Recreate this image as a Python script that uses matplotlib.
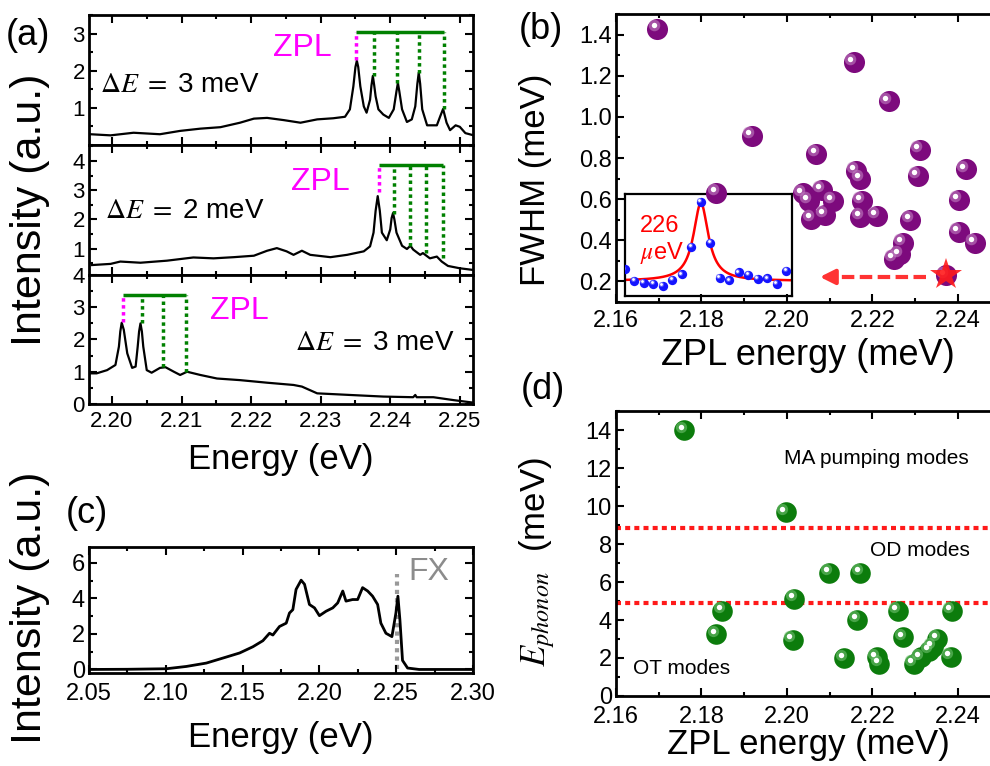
import matplotlib
matplotlib.use('Agg')
import matplotlib.pyplot as plt
from matplotlib.ticker import MultipleLocator, FormatStrFormatter
from matplotlib.transforms import offset_copy
import numpy as np

plt.rcParams['font.family'] = ['Liberation Sans', 'DejaVu Sans']
plt.rcParams['mathtext.fontset'] = 'stix'

# ---- (a) three PL spectra ----
top_e = [2.1969, 2.1998, 2.2031, 2.2069, 2.2098, 2.2127, 2.2156, 2.2184, 2.2204, 2.2223,
         2.2247, 2.2271, 2.2295, 2.2318, 2.2335, 2.2342, 2.2347, 2.2350, 2.2352, 2.2354,
         2.2357, 2.2362, 2.2366, 2.2371, 2.2373, 2.2375, 2.2377, 2.2379, 2.2383, 2.2390,
         2.2398, 2.2405, 2.2409, 2.2411, 2.2413, 2.2417, 2.2424, 2.2431, 2.2436, 2.2439,
         2.2441, 2.2443, 2.2446, 2.2453, 2.2467, 2.2472, 2.2476, 2.2481, 2.2486, 2.2494,
         2.2500, 2.2508, 2.2520]
top_i = [0.29, 0.26, 0.33, 0.29, 0.38, 0.44, 0.48, 0.60, 0.71, 0.73,
         0.67, 0.60, 0.69, 0.72, 0.76, 0.96, 1.58, 2.10, 2.27, 2.10,
         1.58, 1.04, 0.87, 1.22, 1.60, 1.86, 1.60, 1.31, 0.96, 0.82,
         0.73, 0.96, 1.45, 1.67, 1.45, 0.96, 0.62, 0.69, 1.04, 1.65,
         1.95, 1.65, 0.96, 0.53, 0.53, 0.78, 0.97, 0.60, 0.40, 0.53,
         0.49, 0.32, 0.26]
mid_e = [2.1971, 2.1998, 2.2012, 2.2041, 2.2079, 2.2117, 2.2146, 2.2175, 2.2204, 2.2223,
         2.2237, 2.2251, 2.2261, 2.2273, 2.2285, 2.2314, 2.2338, 2.2362, 2.2371, 2.2376,
         2.2379, 2.2382, 2.2385, 2.2388, 2.2395, 2.2400, 2.2402, 2.2404, 2.2406, 2.2409,
         2.2417, 2.2424, 2.2429, 2.2433, 2.2443, 2.2447, 2.2457, 2.2467, 2.2474, 2.2483,
         2.2500, 2.2520]
mid_i = [0.44, 0.48, 0.56, 0.52, 0.59, 0.70, 0.67, 0.71, 0.76, 0.93,
         1.02, 0.91, 0.79, 0.93, 0.79, 0.71, 0.79, 0.91, 1.08, 1.55,
         2.30, 2.80, 2.30, 1.55, 1.29, 1.66, 2.05, 2.22, 2.00, 1.55,
         1.10, 0.99, 1.10, 0.97, 0.79, 0.85, 0.67, 0.73, 0.56, 0.41,
         0.33, 0.27]
bot_e = [2.1969, 2.1978, 2.1993, 2.2005, 2.2010, 2.2012, 2.2014, 2.2017, 2.2022, 2.2029,
         2.2034, 2.2037, 2.2039, 2.2041, 2.2043, 2.2045, 2.2050, 2.2057, 2.2069, 2.2077,
         2.2089, 2.2098, 2.2108, 2.2127, 2.2151, 2.2184, 2.2223, 2.2261, 2.2273, 2.2295,
         2.2342, 2.2390, 2.2433, 2.2436, 2.2438, 2.2462, 2.2491, 2.2520]
bot_i = [0.95, 0.95, 1.05, 1.21, 1.78, 2.25, 2.52, 2.30, 1.57, 1.12,
         1.16, 1.78, 2.25, 2.50, 2.25, 1.78, 1.05, 0.97, 1.12, 1.14,
         1.00, 0.90, 1.00, 0.90, 0.79, 0.74, 0.66, 0.59, 0.54, 0.33,
         0.28, 0.23, 0.21, 0.28, 0.21, 0.21, 0.12, 0.04]

# ZPL / replica guide lines: (zpl energy, zpl top, replica energies, replica tops, bar height)
top_zpl = (2.2351, 2.29, [2.2377, 2.2410, 2.2442, 2.2477], [1.86, 1.68, 1.95, 0.97], 3.04)
mid_zpl = (2.2384, 2.94, [2.2406, 2.2429, 2.2452, 2.2476], [2.18, 1.08, 0.85, 0.67], 3.85)
bot_zpl = (2.2016, 2.55, [2.2043, 2.2073, 2.2107], [2.50, 1.16, 1.00], 3.37)

# ---- (b) FWHM vs ZPL energy ----
fw_e = [2.1697, 2.2157, 2.2239, 2.1918, 2.2069, 2.2311, 2.2419, 2.2161, 2.2172, 2.2307,
        2.1835, 2.2038, 2.2052, 2.2081, 2.2107, 2.2175, 2.2403, 2.2057, 2.2088, 2.2172,
        2.2210, 2.2289, 2.2403, 2.2440, 2.2272, 2.2264, 2.2250, 2.2372]
fw_w = [1.428, 1.265, 1.075, 0.909, 0.820, 0.839, 0.745, 0.738, 0.698, 0.712,
        0.631, 0.628, 0.592, 0.644, 0.592, 0.592, 0.595, 0.506, 0.522, 0.514,
        0.517, 0.498, 0.441, 0.387, 0.387, 0.332, 0.311, 0.229]
star_e, star_w = 2.2372, 0.229
arrow_tip = 2.2077

# inset spectrum (channel offset from peak, intensity) and Lorentzian fit
ins_x = list(range(-8, 10))
ins_y = [0.257, 0.200, 0.192, 0.185, 0.177, 0.205, 0.233, 0.367, 0.584,
         0.387, 0.216, 0.203, 0.242, 0.229, 0.210, 0.213, 0.185, 0.249]
fit_base, fit_amp, fit_x0, fit_g = 0.20, 0.38, 0.0, 1.9

# ---- (c) ensemble spectrum ----
c_e = [2.0501, 2.0750, 2.1004, 2.1134, 2.1264, 2.1394, 2.1481, 2.1567, 2.1632, 2.1675,
       2.1697, 2.1740, 2.1784, 2.1805, 2.1827, 2.1848, 2.1881, 2.1903, 2.1935, 2.1968,
       2.2000, 2.2043, 2.2087, 2.2119, 2.2152, 2.2173, 2.2216, 2.2249, 2.2281, 2.2314,
       2.2346, 2.2379, 2.2400, 2.2433, 2.2472, 2.2498, 2.2511, 2.2524, 2.2541, 2.2574,
       2.2649, 2.2996]
c_i = [0.00, 0.01, 0.04, 0.17, 0.36, 0.70, 0.93, 1.28, 1.62, 2.04,
       1.94, 2.42, 2.61, 3.18, 3.37, 4.51, 5.03, 4.80, 3.66, 3.47,
       3.03, 3.28, 3.47, 3.75, 4.42, 3.85, 3.94, 3.94, 4.61, 4.42,
       4.13, 3.66, 2.61, 2.04, 1.85, 3.18, 4.13, 2.80, 0.51, 0.08,
       0.00, 0.00]
fx_e, fx_top = 2.2502, 5.37

# ---- (d) phonon energy vs ZPL energy ----
ph_e = [2.1760, 2.1997, 2.1849, 2.1835, 2.2017, 2.2013, 2.2099, 2.2172, 2.2165, 2.2134,
        2.2210, 2.2216, 2.2259, 2.2272, 2.2297, 2.2313, 2.2333, 2.2342, 2.2352, 2.2384,
        2.2385]
ph_E = [13.99, 9.67, 4.48, 3.25, 5.12, 2.97, 6.47, 6.47, 3.99, 1.98,
        2.03, 1.68, 4.48, 3.08, 1.68, 2.03, 2.38, 2.59, 3.01, 2.06,
        4.48]
mode_lines = [8.83, 4.91]

fig = plt.figure(figsize=(9.9, 7.66), dpi=100)


def style(ax, xmaj, ymaj, size=15, xfmt='%.2f', yfmt=None, xpad=3):
    ax.xaxis.set_major_locator(MultipleLocator(xmaj))
    ax.xaxis.set_minor_locator(MultipleLocator(xmaj / 2))
    ax.yaxis.set_major_locator(MultipleLocator(ymaj))
    ax.yaxis.set_minor_locator(MultipleLocator(ymaj / 2))
    ax.xaxis.set_major_formatter(FormatStrFormatter(xfmt))
    if yfmt:
        ax.yaxis.set_major_formatter(FormatStrFormatter(yfmt))
    ax.tick_params(which='both', direction='in', top=True, right=True, width=1.5,
                   labelsize=size, pad=3)
    ax.tick_params(axis='x', which='both', pad=xpad)
    ax.tick_params(which='major', length=6)
    ax.tick_params(which='minor', length=3)
    for sp in ax.spines.values():
        sp.set_linewidth(2)


def balls(ax, x, y, color, light, s, spot):
    ax.scatter(x, y, s=s, color=color, lw=0, zorder=3)
    tr = offset_copy(ax.transData, fig=fig, x=-np.sqrt(s) * 0.18, y=np.sqrt(s) * 0.18, units='points')
    ax.scatter(x, y, s=s * 0.3, color=light, alpha=0.6, lw=0, zorder=4, transform=tr)
    ax.scatter(x, y, s=spot, color='white', lw=0, zorder=5, transform=tr)


def guides(ax, g):
    ze, ztop, re, rtop, bar = g
    ax.plot([ze, ze], [ztop, bar], color='#ff00ff', ls=(0, (1, 1)), lw=2.5)
    ax.plot([ze, re[-1]], [bar, bar], color='#008000', lw=2.5, solid_capstyle='butt')
    for e, t in zip(re, rtop):
        ax.plot([e, e], [t, bar], color='#008000', ls=(0, (1, 1)), lw=2.5)


# panel (a)
xl_a = (2.1967, 2.2519)
ax1 = fig.add_axes([0.0899, 0.8107, 0.3879, 0.1697])
ax2 = fig.add_axes([0.0899, 0.6410, 0.3879, 0.1697])
ax3 = fig.add_axes([0.0899, 0.4726, 0.3879, 0.1684])
for ax, e, i, g, yl in [(ax1, top_e, top_i, top_zpl, (0, 3.5)),
                        (ax2, mid_e, mid_i, mid_zpl, (0.1, 4.55)),
                        (ax3, bot_e, bot_i, bot_zpl, (0, 4))]:
    ax.plot(e, i, color='black', lw=1.6)
    guides(ax, g)
    ax.set_xlim(*xl_a)
    ax.set_ylim(*yl)
    style(ax, 0.01, 1, size=16, xpad=5)
ax1.set_yticks([1, 2, 3])
ax2.set_yticks([1, 2, 3, 4])
ax1.tick_params(labelbottom=False)
ax2.tick_params(labelbottom=False)
ax3.set_xlabel('Energy (eV)', fontsize=25, labelpad=8)

ax1.text(2.2273, 2.6, 'ZPL', color='#ff00ff', fontsize=23, ha='center', va='center')
ax1.text(2.1983, 1.62, r'$\Delta E\ =\ $3 meV', fontsize=20, ha='left', va='center')
ax2.text(2.2299, 3.29, 'ZPL', color='#ff00ff', fontsize=23, ha='center', va='center')
ax2.text(2.1990, 2.30, r'$\Delta E\ =\ $2 meV', fontsize=20, ha='left', va='center')
ax3.text(2.2183, 2.89, 'ZPL', color='#ff00ff', fontsize=23, ha='center', va='center')
ax3.text(2.2493, 1.88, r'$\Delta E\ =\ $3 meV', fontsize=20, ha='right', va='center')

fig.text(0.030, 0.7265, 'Intensity (a.u.)', fontsize=31, rotation=90, ha='center', va='center')

# panel (c)
axc = fig.add_axes([0.0899, 0.1214, 0.3879, 0.1645])
axc.plot(c_e, c_i, color='black', lw=2)
axc.plot([fx_e, fx_e], [0, fx_top], color='#999999', ls=(0, (1, 1)), lw=3, zorder=1)
axc.text(2.258, 5.47, 'FX', color='#8c8c8c', fontsize=23, ha='left', va='center')
axc.set_xlim(2.05, 2.30)
axc.set_ylim(-0.2, 6.9)
style(axc, 0.05, 2, size=17, xpad=7)
axc.set_yticks([0, 2, 4, 6])
axc.set_xlabel('Energy (eV)', fontsize=25, labelpad=12)
fig.text(0.030, 0.206, 'Intensity (a.u.)', fontsize=31, rotation=90, ha='center', va='center')

# panel (b)
axb = fig.add_axes([0.6222, 0.6057, 0.3886, 0.3760])
axb.set_zorder(2)
axb.patch.set_facecolor('none')
balls(axb, fw_e, fw_w, '#7d0a7d', '#c080c0', 230, 15)
axb.plot(star_e, star_w, marker='*', ms=24, color='#ff1a1a', alpha=0.9, mew=0, zorder=6)
axb.plot([star_e - 0.0046, arrow_tip + 0.0030], [0.222, 0.222], color='#ff3333',
         ls=(0, (3, 1.3)), lw=3, zorder=6)
axb.annotate('', xy=(arrow_tip, 0.222), xytext=(arrow_tip + 0.0034, 0.222),
             arrowprops=dict(arrowstyle='-|>', color='#ff3333', lw=3, mutation_scale=22,
                             shrinkA=0, shrinkB=0), zorder=6)
axb.set_xlim(2.16, 2.25)
axb.set_ylim(0.1, 1.5)
style(axb, 0.02, 0.2, size=17, yfmt='%.1f', xpad=6)
axb.set_xticks([2.16, 2.18, 2.20, 2.22, 2.24])
axb.set_xlabel('ZPL energy (meV)', fontsize=26, labelpad=4)
axb.set_ylabel('FWHM (meV)', fontsize=25)
axb.yaxis.set_label_coords(-0.166, 0.424)

axi = fig.add_axes([0.6313, 0.6136, 0.1687, 0.1332])
axi.set_zorder(1)
xf = np.linspace(-8, 9.6, 400)
axi.plot(xf, fit_base + fit_amp * (fit_g / 2) ** 2 / ((xf - fit_x0) ** 2 + (fit_g / 2) ** 2),
         color='#ff0000', lw=1.8)
balls(axi, ins_x, ins_y, '#1414ff', '#8080ff', 45, 4)
axi.set_xlim(-8.0, 9.6)
axi.set_ylim(0.127, 0.624)
axi.set_xticks([])
axi.set_yticks([])
for sp in axi.spines.values():
    sp.set_linewidth(1.6)
axi.text(0.09, 0.69, '226', color='#ff0000', fontsize=17, ha='left', va='center',
         transform=axi.transAxes)
axi.text(0.09, 0.42, r'$\mu$eV', color='#ff0000', fontsize=17, ha='left', va='center',
         transform=axi.transAxes)

# panel (d)
axd = fig.add_axes([0.6222, 0.0914, 0.3886, 0.3720])
for y in mode_lines:
    axd.axhline(y, color='#ff1a1a', ls=(0, (1.2, 1)), lw=3, zorder=2)
balls(axd, ph_e, ph_E, '#0c7c0c', '#70c070', 220, 15)
axd.text(2.1993, 12.5, 'MA pumping modes', fontsize=15, ha='left', va='center')
axd.text(2.2194, 7.66, 'OD modes', fontsize=15, ha='left', va='center')
axd.text(2.1639, 1.45, 'OT modes', fontsize=15, ha='left', va='center')
axd.set_xlim(2.16, 2.25)
axd.set_ylim(0, 15)
style(axd, 0.02, 2, size=17, xpad=7)
axd.set_xticks([2.16, 2.18, 2.20, 2.22, 2.24])
axd.set_xlabel('ZPL energy (meV)', fontsize=25, labelpad=0)
axd.set_ylabel(r'$E_{phonon}$  (meV)', fontsize=25)
axd.yaxis.set_label_coords(-0.153, 0.47)

# panel letters
for x, y, s in [(0.028, 0.954, '(a)'), (0.546, 0.961, '(b)'),
                (0.088, 0.329, '(c)'), (0.548, 0.491, '(d)')]:
    fig.text(x, y, s, fontsize=26, ha='center', va='center')

fig.savefig('out.png', dpi=100)
